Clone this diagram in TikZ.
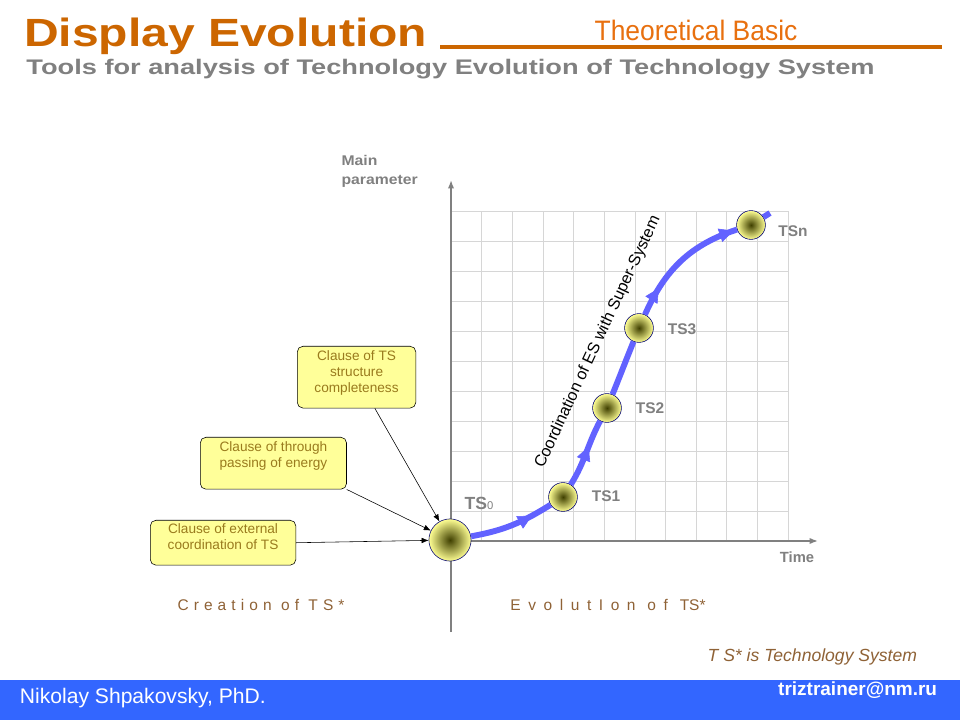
\documentclass[tikz,border=0pt]{standalone}
\usepackage{fontspec}
\setmainfont{Liberation Sans}
\usetikzlibrary{arrows.meta,decorations.markings}
\definecolor{titleorange}{HTML}{CC6600}
\definecolor{basicorange}{HTML}{E8700F}
\definecolor{subgrey}{HTML}{808080}
\definecolor{gridgrey}{HTML}{D6D6D6}
\definecolor{flowblue}{HTML}{6262FF}
\definecolor{boxyellow}{HTML}{FFFF99}
\definecolor{boxtext}{HTML}{9A7B1E}
\definecolor{notebrown}{HTML}{8F6236}
\definecolor{barblue}{HTML}{3366FF}
\tikzset{
	stage/.style={circle, draw=blue!45!black, thin, inner sep=0pt, inner color=olive!50!black, outer color=yellow!42},
	clause/.style={draw=black, fill=boxyellow, rounded corners=4pt, align=center, text=boxtext, inner ysep=3pt, anchor=north west, font=\fontsize{9.7}{11.3}\selectfont},
	tslabel/.style={text=subgrey, font=\bfseries\fontsize{11}{13}\selectfont},
	flow/.style={draw=flowblue, line width=4.2pt},
	flowtip/.style={postaction={decorate, decoration={markings, mark=at position #1 with {\arrow{Triangle[length=10pt, width=10pt, line width=0.4pt]}}}}},
	feed/.style={draw=black, thin, -{Latex[length=5pt, width=4pt]}},
	axis/.style={draw=subgrey, line width=1.1pt, -{Latex[length=6pt, width=4.5pt]}}
}
\begin{document}
\begin{tikzpicture}[x=0.025cm, y=0.025cm]
	\useasboundingbox (0,0) rectangle (960,-720);
	\fill[white] (0,0) rectangle (960,-720);

	\node (title) at (18,-47)	[anchor=base west, text=titleorange, font=\bfseries\fontsize{28}{30}\selectfont, xscale=1.22, transform shape]	{Display Evolution};
	\node (basic) at (696,-30)	[text=basicorange, font=\fontsize{20}{22}\selectfont, xscale=0.94, transform shape]	{Theoretical Basic};
	\draw[titleorange, line width=2.8pt] (440,-47) -- (942,-47);
	\node (tools) at (20,-75)	[anchor=base west, text=subgrey, font=\bfseries\fontsize{15}{17}\selectfont, xscale=1.29, transform shape]	{Tools for analysis of Technology Evolution of Technology System};

	\draw[gridgrey, shift={(451,-541)}] (0,0) grid[xstep=30.636, ystep=30] (337,330);
	\draw[axis] (451,-632) -- (451,-180);
	\draw[axis] (451,-541) -- (818,-541);
	\node (mainpar) at (336,-150)	[anchor=north west, align=left, text=subgrey, font=\bfseries\fontsize{10}{13.5}\selectfont, xscale=1.12, transform shape]	{Main\\parameter};
	\node (time) at (797,-557)	[text=subgrey, font=\bfseries\fontsize{10.5}{12}\selectfont]	{Time};

	\node (TS0) at (450,-540)	[stage, minimum size=30pt]	{};
	\node (TS1) at (563,-497)	[stage, minimum size=20.5pt]	{};
	\node (TS2) at (607,-408)	[stage, minimum size=20.5pt]	{};
	\node (TS3) at (639,-328)	[stage, minimum size=20.5pt]	{};
	\node (TSn) at (751,-225)	[stage, minimum size=20.5pt]	{};
	\coordinate (tail) at (770,-213);
	\draw[flow, flowtip=0.75] (TS0) to[out=10, in=212] (TS1);
	\draw[flow, flowtip=0.6] (TS1) to[out=58, in=242] (TS2);
	\draw[flow] (TS2) to[out=68, in=248] (TS3);
	\draw[flow, flowtip=0.23, flowtip=0.97] (TS3) to[out=66, in=198] (TSn);
	\draw[flow] (TSn) -- (tail);

	\node (l0) at (479,-503)	[tslabel, font=\bfseries\fontsize{12.5}{13}\selectfont]	{TS\textmd{\fontsize{8}{9}\selectfont 0}};
	\node (l1) at (606,-496)	[tslabel]	{TS1};
	\node (l2) at (650,-408)	[tslabel]	{TS2};
	\node (l3) at (682,-329)	[tslabel]	{TS3};
	\node (ln) at (793,-231)	[tslabel]	{TSn};
	\node (coord) at (598,-342)	[rotate=65, font=\fontsize{11.5}{13}\selectfont]	{Coordination of ES with Super-System};

	\node (box1) at (297,-346)	[clause, minimum width=84.3pt, text depth=8.3pt]	{Clause of TS\\structure\\completeness};
	\node (box2) at (200,-437)	[clause, minimum width=104pt, text depth=12.6pt]	{Clause of through\\passing of energy};
	\node (box3) at (150,-520)	[clause, minimum width=103.5pt, inner ysep=2.5pt, text depth=8.6pt]	{Clause of external\\coordination of TS};
	\draw[feed] ([xshift=13pt]box1.south) -- (TS0);
	\draw[feed] (box2.south east) -- (TS0);
	\draw[feed] (box3.east) -- (TS0);

	\node (creation) at (261,-605)	[text=notebrown, font=\fontsize{11}{13}\selectfont]	{\addfontfeature{LetterSpace=33}Creation of TS*};
	\node (evolution) at (608,-605)	[text=notebrown, font=\fontsize{11}{13}\selectfont]	{{\addfontfeature{LetterSpace=49}EvolutIon of }TS*};
	\node (note) at (922,-657)	[anchor=east, text=notebrown, font=\itshape\fontsize{12.5}{14}\selectfont]	{T S* is Technology System};

	\fill[barblue] (0,-680) rectangle (960,-720);
	\node (author) at (15,-698)	[anchor=west, text=white, font=\fontsize{15}{17}\selectfont]	{Nikolay Shpakovsky, PhD.};
	\node (mail) at (942,-690)	[anchor=east, text=white, font=\bfseries\fontsize{13.5}{15}\selectfont]	{triztrainer@nm.ru};
\end{tikzpicture}
\end{document}
